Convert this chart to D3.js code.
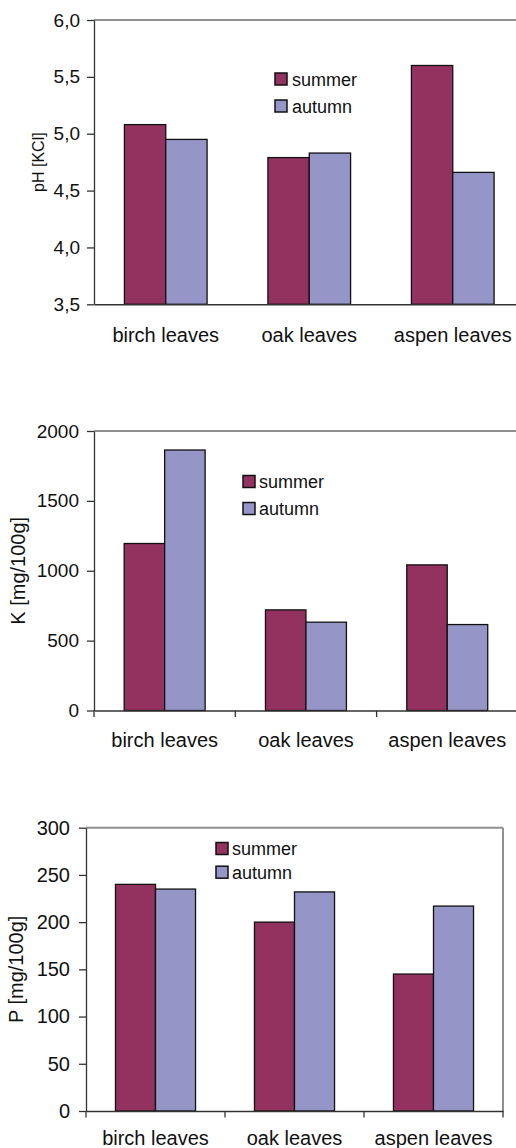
<!DOCTYPE html>
<html>
<head>
<meta charset="utf-8">
<script src="https://cdn.jsdelivr.net/npm/d3@7"></script>
<style>
  body { margin: 0; background: #fff; }
  svg text { font-family: "Liberation Sans", Arial, sans-serif; fill: #111; }
</style>
</head>
<body>
<div id="plots"></div>
<script>
// data
const categories = ["birch leaves", "oak leaves", "aspen leaves"];
const seasons = ["summer", "autumn"];

const phSummer = [5.08, 4.79, 5.60];
const phAutumn = [4.95, 4.83, 4.66];
const phTicks = [3.5, 4.0, 4.5, 5.0, 5.5, 6.0];

const kSummer = [1195, 720, 1042];
const kAutumn = [1864, 632, 615];
const kTicks = [0, 500, 1000, 1500, 2000];

const pSummer = [240, 200, 145];
const pAutumn = [235, 232, 217];
const pTicks = [0, 50, 100, 150, 200, 250, 300];

const colors = { summer: "#93325e", autumn: "#9595c8" };

// comma as decimal mark for the pH axis
const commaFmt = d3.formatLocale({ decimal: ",", thousands: " ", grouping: [3], currency: ["", ""] }).format(".1f");

const W = 516, H = 1148;
const svg = d3.select("#plots").append("svg")
    .attr("width", W)
    .attr("height", H);

// layout of the three panels
const charts = [
  { summer: phSummer, autumn: phAutumn, ticks: phTicks, domain: [3.5, 6], fmt: commaFmt,
    title: "pH [KCl]", titleSize: 16, titleX: 44,
    left: 94, step: 143.5, top: 20, bottom: 304.3, pad: 0.424,
    tickLen: 7, tickPad: 7, tickFont: 19, xTicks: false, rightBorder: false,
    labelY: 37.5, legend: { x: 275, y: 73, gap: 27, textX: 292 } },
  { summer: kSummer, autumn: kAutumn, ticks: kTicks, domain: [0, 2000], fmt: d3.format("d"),
    title: "K [mg/100g]", titleSize: 20, titleX: 25,
    left: 94, step: 141.3, top: 431, bottom: 710.5, pad: 0.427,
    tickLen: 7, tickPad: 8, tickFont: 19, xTicks: true, rightBorder: false,
    labelY: 36, legend: { x: 243, y: 475.5, gap: 27, textX: 259 } },
  { summer: pSummer, autumn: pAutumn, ticks: pTicks, domain: [0, 300], fmt: d3.format("d"),
    title: "P [mg/100g]", titleSize: 20, titleX: 23,
    left: 86, step: 139, top: 827.7, bottom: 1111, pad: 0.424,
    tickLen: 7, tickPad: 9, tickFont: 20, xTicks: true, rightBorder: true,
    labelY: 34, legend: { x: 216, y: 842.5, gap: 23.7, textX: 232 } }
];

const drawChart = (c) => {
  const g = svg.append("g");
  const right = c.left + c.step * categories.length;

  const x0 = d3.scaleBand()
      .domain(categories)
      .range([c.left, right])
      .paddingInner(c.pad)
      .paddingOuter(c.pad / 2);

  const x1 = d3.scaleBand()
      .domain(seasons)
      .range([0, x0.bandwidth()]);

  const y = d3.scaleLinear()
      .domain(c.domain)
      .range([c.bottom, c.top]);

  const rows = categories.map((cat, i) => ({ cat: cat, summer: c.summer[i], autumn: c.autumn[i] }));

  // grey frame on top (and right for the last panel)
  g.append("line")
      .attr("x1", c.left).attr("x2", right)
      .attr("y1", y(c.domain[1])).attr("y2", y(c.domain[1]))
      .attr("stroke", "#909090").attr("stroke-width", 2);
  if (c.rightBorder) {
    g.append("line")
        .attr("x1", right).attr("x2", right)
        .attr("y1", y(c.domain[1])).attr("y2", y(c.domain[0]))
        .attr("stroke", "#909090").attr("stroke-width", 2);
  }

  // bars
  g.selectAll(".grp")
    .data(rows)
    .join("g")
      .attr("class", "grp")
      .attr("transform", d => `translate(${x0(d.cat)},0)`)
    .selectAll("rect")
    .data(d => seasons.map(s => ({ s: s, v: d[s] })))
    .join("rect")
      .attr("x", d => x1(d.s))
      .attr("y", d => y(d.v))
      .attr("width", x1.bandwidth())
      .attr("height", d => y(c.domain[0]) - y(d.v))
      .attr("fill", d => colors[d.s])
      .attr("stroke", "#111")
      .attr("stroke-width", 1.3);

  // y axis
  const yAxis = d3.axisLeft(y)
      .tickValues(c.ticks)
      .tickFormat(c.fmt)
      .tickSize(c.tickLen)
      .tickSizeOuter(0)
      .tickPadding(c.tickPad);
  const ya = g.append("g")
      .attr("transform", `translate(${c.left},0)`)
      .call(yAxis);
  ya.selectAll("path, line").attr("stroke", "#333").attr("stroke-width", 1.3);
  ya.selectAll("text").style("font-size", c.tickFont + "px").attr("fill", "#111");

  // x axis line + category labels
  const xAxis = d3.axisBottom(x0).tickSize(0).tickSizeOuter(0);
  const xa = g.append("g")
      .attr("transform", `translate(0,${y(c.domain[0])})`)
      .call(xAxis);
  xa.select(".domain").attr("stroke", "#333").attr("stroke-width", 1.5);
  xa.selectAll("text")
      .attr("y", c.labelY)
      .attr("dy", null)
      .style("font-size", "20px")
      .attr("fill", "#111");

  // tick marks between categories
  if (c.xTicks) {
    g.selectAll(".xtick")
      .data(d3.range(categories.length + 1))
      .join("line")
        .attr("class", "xtick")
        .attr("x1", i => c.left + x0.step() * i)
        .attr("x2", i => c.left + x0.step() * i)
        .attr("y1", y(c.domain[0]))
        .attr("y2", y(c.domain[0]) + 6.5)
        .attr("stroke", "#333")
        .attr("stroke-width", 1.3);
  }

  // y axis title
  g.append("text")
      .attr("transform", `translate(${c.titleX},${(c.top + c.bottom) / 2}) rotate(-90)`)
      .attr("text-anchor", "middle")
      .style("font-size", c.titleSize + "px")
      .text(c.title);

  // legend
  const lg = g.append("g");
  seasons.forEach((s, i) => {
    lg.append("rect")
        .attr("x", c.legend.x)
        .attr("y", c.legend.y + i * c.legend.gap)
        .attr("width", 12)
        .attr("height", 12)
        .attr("fill", colors[s])
        .attr("stroke", "#111")
        .attr("stroke-width", 1.5);
    lg.append("text")
        .attr("x", c.legend.textX)
        .attr("y", c.legend.y + i * c.legend.gap + 12.5)
        .style("font-size", "18px")
        .text(s);
  });
};

charts.forEach(drawChart);
</script>
</body>
</html>
